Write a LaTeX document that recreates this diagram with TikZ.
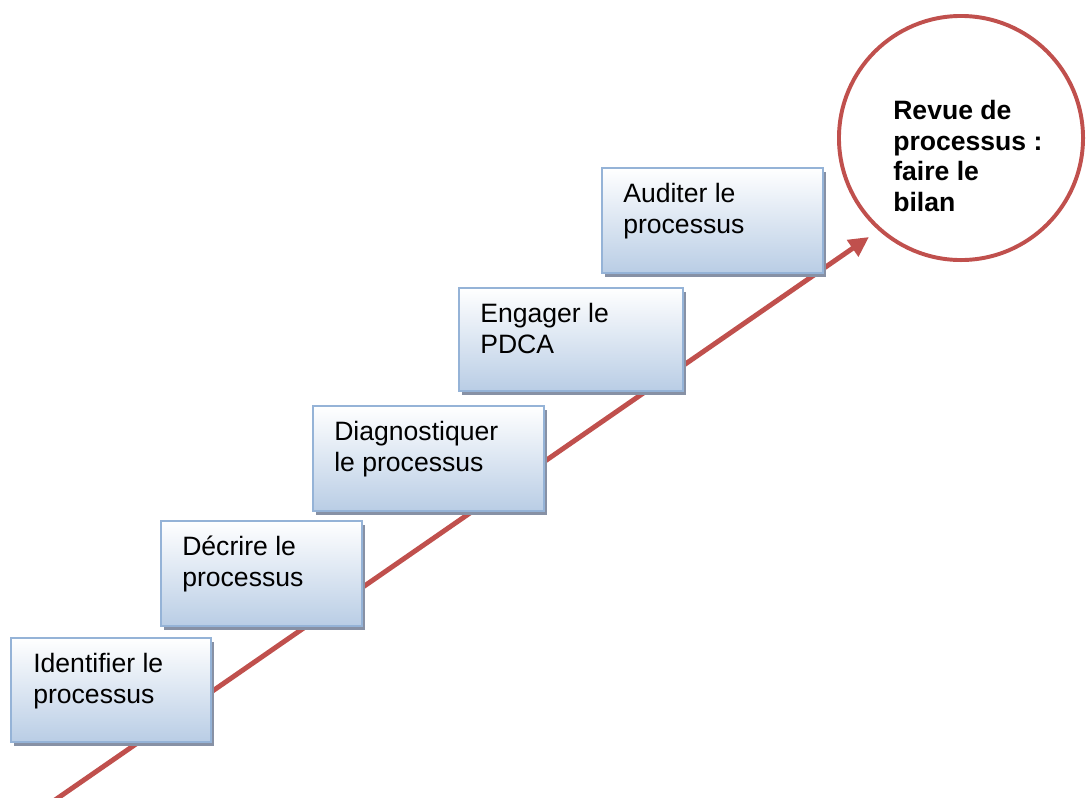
\documentclass[tikz,border=0pt]{standalone}
\usepackage{fontspec}
\setmainfont{Liberation Sans}
\usetikzlibrary{arrows.meta,shadows}
\definecolor{boxblue}{RGB}{185,205,229}
\definecolor{boxedge}{RGB}{149,179,215}
\definecolor{boxshade}{RGB}{135,145,165}
\definecolor{flowred}{RGB}{192,80,77}
\tikzset{
    stepbox/.style={draw=boxedge, line width=1.4pt, top color=white, bottom color=boxblue,
        anchor=north west, inner sep=0pt,
        drop shadow={shadow xshift=2.2pt, shadow yshift=-2.8pt, fill=boxshade, opacity=1}},
    steptext/.style={anchor=north west, inner sep=0pt, align=left, font=\fontsize{18.9}{22}\selectfont},
    flow/.style={draw=flowred, line width=3.5pt, -{Triangle[length=0.5cm,width=0.48cm]}},
}
\begin{document}
\begin{tikzpicture}[x=0.025cm, y=-0.025cm]
    \useasboundingbox (0,0) rectangle (1086,797);
    % fleche de progression
    \coordinate (start) at (55,800);
    \coordinate (tip) at (869,237);
    \draw[flow] (start) -- (tip);

    % les etapes
    \node[stepbox, minimum width=5cm, minimum height=2.6cm] (b1) at (10,637) {};
    \node[steptext] (t1) at ([shift={(23,16)}]b1.north west) {Identifier le\\processus};
    \node[stepbox, minimum width=5.025cm, minimum height=2.625cm] (b2) at (160,520) {};
    \node[steptext] (t2) at ([shift={(22,16)}]b2.north west) {Décrire le\\processus};
    \node[stepbox, minimum width=5.775cm, minimum height=2.625cm] (b3) at (312,405) {};
    \node[steptext] (t3) at ([shift={(22,16)}]b3.north west) {Diagnostiquer\\le processus};
    \node[stepbox, minimum width=5.6cm, minimum height=2.575cm] (b4) at (458,287) {};
    \node[steptext] (t4) at ([shift={(22,16)}]b4.north west) {Engager le\\PDCA};
    \node[stepbox, minimum width=5.525cm, minimum height=2.625cm] (b5) at (601,167) {};
    \node[steptext] (t5) at ([shift={(22,16)}]b5.north west) {Auditer le\\processus};

    % revue
    \node[draw=flowred, line width=2.8pt, circle, minimum size=6.1cm] (rv) at (961,138) {};
    \node[steptext, font=\fontsize{18.9}{21.8}\selectfont\bfseries] (rt) at (893,100) {Revue de\\processus :\\faire le\\bilan};
\end{tikzpicture}
\end{document}
